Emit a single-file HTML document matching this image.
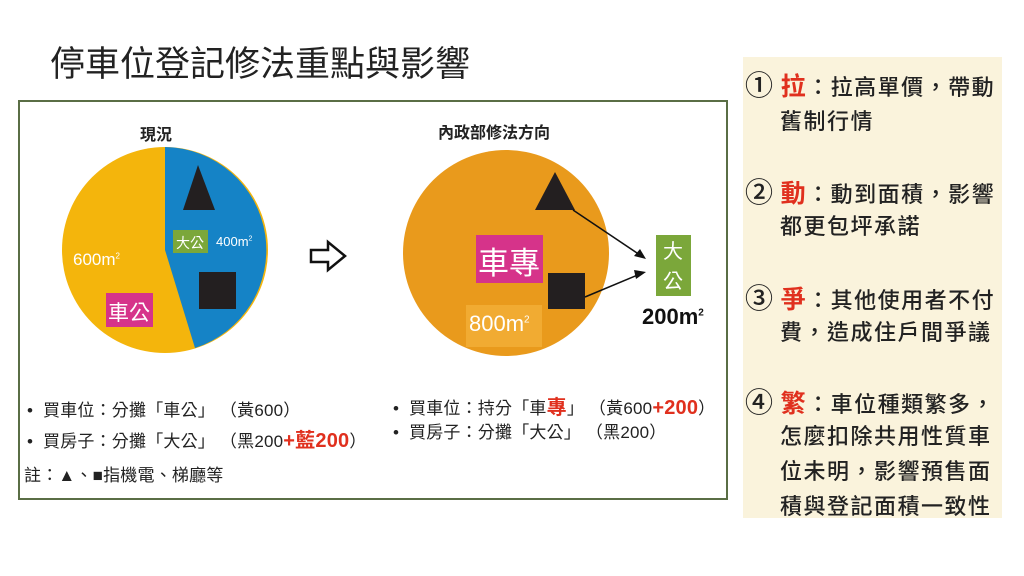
<!DOCTYPE html>
<html><head><meta charset="utf-8"><style>
body{margin:0;width:1024px;height:576px;background:#fff;position:relative;overflow:hidden;font-family:"Liberation Sans","Noto Sans CJK TC",sans-serif;color:#222}
.a{position:absolute;white-space:nowrap}
.r{color:#e0301e;font-weight:bold}
.rp .a{font-size:22px;letter-spacing:1.5px;font-weight:500}
.b{font-size:17px;letter-spacing:0.2px}
</style></head><body>
<div class="a" style="left:50px;top:36px;font-size:35px;color:#222">停車位登記修法重點與影響</div>
<div class="a" style="left:18px;top:100px;width:706px;height:396px;border:2px solid #5a6e45"></div>
<svg class="a" style="left:0;top:0" width="1024" height="576">
<circle cx="165" cy="250" r="103" fill="#f4b50c"/>
<path d="M165,147 A103 103 0 0 1 195,348 L165,250 Z" fill="#1583c6"/>
<polygon points="198,165 183,210 215,210" fill="#231f20"/>
<rect x="199" y="272" width="37" height="37" fill="#231f20"/>
<rect x="173" y="230" width="35" height="23" fill="#7ba73a"/>
<rect x="106" y="293" width="47" height="34" fill="#d6338a"/>
<polygon points="311,250 328,250 328,242 345,256 328,270 328,262 311,262" fill="#fff" stroke="#111" stroke-width="2.5"/>
<circle cx="506" cy="253" r="103" fill="#e99a1c"/>
<polygon points="555,172 535,210 575,210" fill="#231f20"/>
<rect x="548" y="273" width="37" height="36" fill="#231f20"/>
<rect x="476" y="235" width="67" height="48" fill="#d6338a"/>
<rect x="466" y="305" width="76" height="42" fill="#f1ab32"/>
<rect x="656" y="235" width="35" height="61" fill="#7ba73a"/>
<line x1="573" y1="210" x2="640" y2="255" stroke="#111" stroke-width="1.5"/>
<polygon points="646,259 634,256 640,249" fill="#111"/>
<line x1="585" y1="297" x2="640" y2="274" stroke="#111" stroke-width="1.5"/>
<polygon points="646,272 636,279 634,270" fill="#111"/>
<rect x="743" y="57" width="259" height="461" fill="#faf3dc"/>
</svg>
<div class="a" style="left:140px;top:121px;font-size:16px;font-weight:bold">現況</div>
<div class="a" style="left:176px;top:233px;font-size:14px;color:#fff">大公</div>
<div class="a" style="left:216px;top:234px;font-size:13px;color:#fff">400m<sup style="font-size:7px">2</sup></div>
<div class="a" style="left:73px;top:250px;font-size:17px;color:#fff">600m<sup style="font-size:8px">2</sup></div>
<div class="a" style="left:108px;top:297px;font-size:21px;color:#fff">車公</div>
<div class="a" style="left:438px;top:119px;font-size:16px;font-weight:bold">內政部修法方向</div>
<div class="a" style="left:478px;top:238px;font-size:31px;color:#fff">車專</div>
<div class="a" style="left:469px;top:311px;font-size:22px;color:#fff">800m<sup style="font-size:10px">2</sup></div>
<div class="a" style="left:663px;top:237px;font-size:20px;color:#fff;line-height:30px;white-space:normal;width:22px">大公</div>
<div class="a" style="left:642px;top:304px;font-size:22px;font-weight:bold;color:#111">200m<sup style="font-size:10px">2</sup></div>
<div class="a b" style="left:27px;top:396px">•&nbsp; 買車位：分攤「車公」 （黃600）</div>
<div class="a b" style="left:27px;top:424px">•&nbsp; 買房子：分攤「大公」 （黑200<span class="r" style="font-size:20px">+藍200</span>）</div>
<div class="a b" style="left:24px;top:461px">註：▲、■指機電、梯廳等</div>
<div class="a b" style="left:393px;top:391px">•&nbsp; 買車位：持分「車<span class="r" style="font-size:20px">專</span>」 （黃600<span class="r" style="font-size:20px">+200</span>）</div>
<div class="a b" style="left:393px;top:418px">•&nbsp; 買房子：分攤「大公」 （黑200）</div>
<div class="rp">
<div class="a" style="left:745px;top:64px"><span style="font-size:28px;letter-spacing:0">①</span> <span class="r" style="font-size:25px">拉</span>：拉高單價，帶動</div>
<div class="a" style="left:780px;top:104px">舊制行情</div>
<div class="a" style="left:745px;top:171px"><span style="font-size:28px;letter-spacing:0">②</span> <span class="r" style="font-size:25px">動</span>：動到面積，影響</div>
<div class="a" style="left:780px;top:209px">都更包坪承諾</div>
<div class="a" style="left:745px;top:277px"><span style="font-size:28px;letter-spacing:0">③</span> <span class="r" style="font-size:25px">爭</span>：其他使用者不付</div>
<div class="a" style="left:780px;top:315px">費，造成住戶間爭議</div>
<div class="a" style="left:745px;top:381px"><span style="font-size:28px;letter-spacing:0">④</span> <span class="r" style="font-size:25px">繁</span>：車位種類繁多，</div>
<div class="a" style="left:780px;top:419px">怎麼扣除共用性質車</div>
<div class="a" style="left:780px;top:454px">位未明，影響預售面</div>
<div class="a" style="left:780px;top:489px">積與登記面積一致性</div>
</div>
</body></html>
